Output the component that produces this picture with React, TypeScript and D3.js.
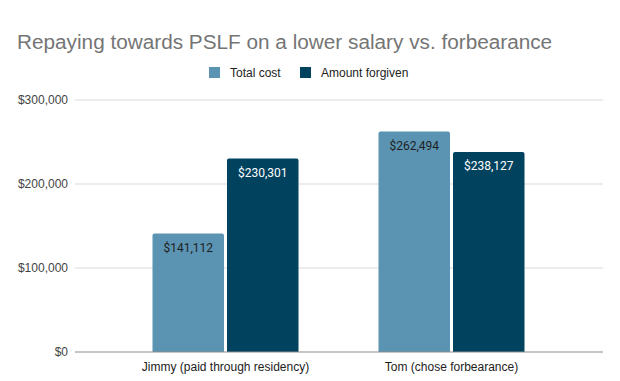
import React from "react";
import * as d3 from "d3";

const categories = ["Jimmy (paid through residency)", "Tom (chose forbearance)"];
const seriesNames = ["Total cost", "Amount forgiven"];
const totalCost = [141112, 262494];
const amountForgiven = [230301, 238127];
const yTicks = [0, 100000, 200000, 300000];

const W = 620;
const H = 381;
const colors = ["#5b94b2", "#01425f"];
const labelColors = ["#1f1f1f", "#ffffff"];

export default function App() {
  const y = d3.scaleLinear().domain([0, 300000]).range([352, 100]);
  const x0 = d3.scaleBand<string>().domain(categories).range([112.5, 564.5]).padding(0);
  const x1 = d3
    .scaleBand<string>()
    .domain(seriesNames)
    .range([40, x0.bandwidth() - 40])
    .paddingInner(0.04);
  const series = [totalCost, amountForgiven];
  const fmt = (v: number) => "$" + d3.format(",")(v);
  const font = "'Liberation Sans', Arial, sans-serif";

  return (
    <svg width={W} height={H} style={{ position: "absolute", left: 0, top: 0 }}>
      <rect width={W} height={H} fill="#fff" />
      <text x={17} y={49} fontFamily={font} fontSize={20.75} fill="#757575">
        Repaying towards PSLF on a lower salary vs. forbearance
      </text>
      <g fontFamily={font} fontSize={12} fill="#222">
        <rect x={209} y={67} width={11} height={11} fill={colors[0]} />
        <text x={230} y={77}>{seriesNames[0]}</text>
        <rect x={300} y={67} width={11} height={11} fill={colors[1]} />
        <text x={321} y={77}>{seriesNames[1]}</text>
      </g>
      {yTicks.map((t) => (
        <g key={t}>
          {t !== 0 && (
            <line x1={75} x2={603} y1={y(t)} y2={y(t)} stroke="#d9d9d9" strokeWidth={1} />
          )}
          <text
            x={68}
            y={y(t)}
            dy="0.35em"
            textAnchor="end"
            fontFamily={font}
            fontSize={12}
            fill="#444"
          >
            {fmt(t)}
          </text>
        </g>
      ))}
      {categories.map((c, i) => (
        <g key={c} transform={`translate(${x0(c)},0)`}>
          {series.map((s, j) => {
            const bx = x1(seriesNames[j])!;
            const top = y(s[i]);
            return (
              <g key={j}>
                <path
                  d={`M${bx},${y(0)} V${top + 2} Q${bx},${top} ${bx + 2},${top} H${bx + x1.bandwidth() - 2} Q${bx + x1.bandwidth()},${top} ${bx + x1.bandwidth()},${top + 2} V${y(0)} Z`}
                  fill={colors[j]}
                />
                <text
                  x={bx + x1.bandwidth() / 2}
                  y={top + 14}
                  dy="0.35em"
                  textAnchor="middle"
                  fontFamily="Roboto, sans-serif"
                  fontSize={12}
                  fill={labelColors[j]}
                >
                  {fmt(s[i])}
                </text>
              </g>
            );
          })}
          <text
            x={x0.bandwidth() / 2}
            y={367}
            dy="0.35em"
            textAnchor="middle"
            fontFamily={font}
            fontSize={12}
            fill="#222"
          >
            {c}
          </text>
        </g>
      ))}
      <line x1={75} x2={603} y1={y(0)} y2={y(0)} stroke="#8c8c8c" strokeWidth={1} />
    </svg>
  );
}
